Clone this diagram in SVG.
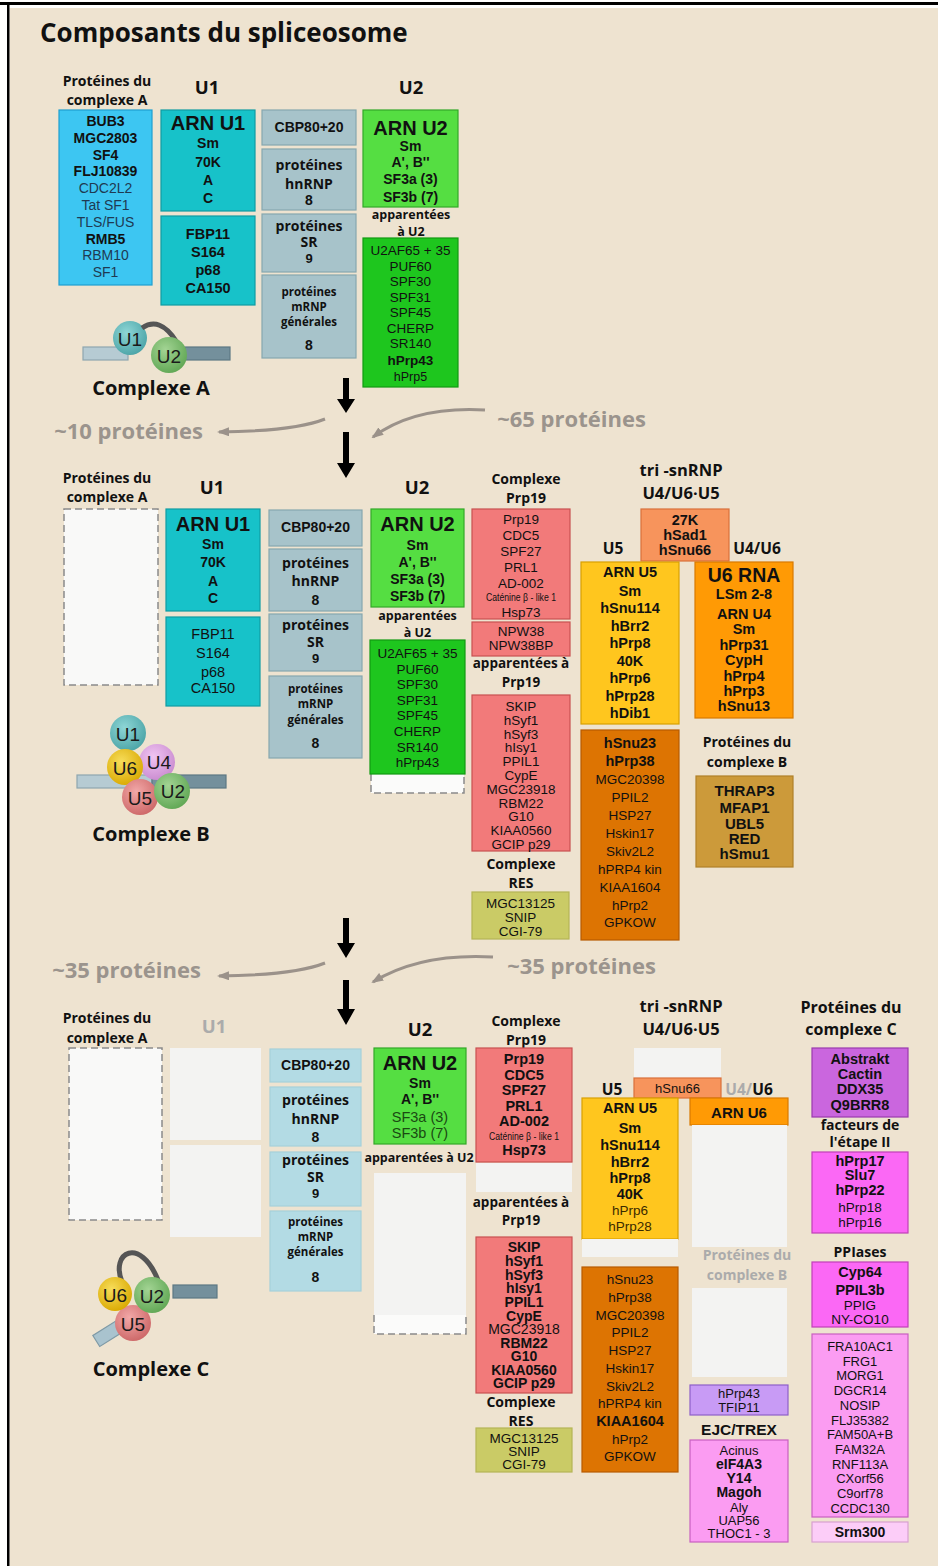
<svg xmlns="http://www.w3.org/2000/svg" width="938" height="1566" viewBox="0 0 938 1566">
<defs>
<style>
text{dominant-baseline:central;text-anchor:middle}
.s{font-family:"Liberation Sans",Arial,Helvetica,sans-serif;font-size:14px;fill:#111}
.sm{font-family:"Liberation Sans",Arial,Helvetica,sans-serif;font-size:13px;fill:#111}
.b{font-weight:bold}
.h{font-family:"Open Sans","Liberation Sans",sans-serif;font-weight:bold;fill:#111}
.hs{font-size:14px}
.gry{fill:#ABABAB}
.big{font-size:20px;font-weight:bold}
.ct{font-family:"Liberation Sans",Arial,sans-serif;font-size:19px;fill:#1a1a1a}
.pg{font-family:"Open Sans","Liberation Sans",sans-serif;font-weight:bold;font-size:22px;fill:#9B948D}
.n9{font-family:"Liberation Sans",Arial,sans-serif;font-weight:bold;font-size:13px;fill:#111}
rect{stroke-width:1.2}
.r-sky{fill:#3DC6F2;stroke:#1E9FD0}
.r-teal{fill:#17C2C9;stroke:#0F9CA3}
.r-gb{fill:#A7C3CA;stroke:#86A7AF}
.r-lb{fill:#B3DBE4;stroke:#A6D0DA}
.r-lg{fill:#55DE42;stroke:#33A828}
.r-dg{fill:#1EC61E;stroke:#129A12}
.r-pk{fill:#F27A7A;stroke:#C85050}
.r-ol{fill:#CACB66;stroke:#B5B555}
.r-sal{fill:#F7945C;stroke:#D9703A}
.r-yl{fill:#FFC61E;stroke:#D9A000}
.r-or{fill:#FF9A05;stroke:#D97A00}
.r-do{fill:#DD7402;stroke:#B85A00}
.r-br{fill:#CC9A3A;stroke:#B08028}
.r-lav{fill:#C89BF5;stroke:#8E5FC8}
.r-pu{fill:#CA66DE;stroke:#9A3AAE}
.r-mg{fill:#FB68F5;stroke:#C040B8}
.r-lp{fill:#FB9CF2;stroke:#C860C0}
.r-vlp{fill:#FCCDF8;stroke:#D8A0D0}
.r-ph{fill:#F3F3F2;stroke:none}
.r-dash{fill:#F9F9F8;stroke:#8A8A8A;stroke-dasharray:7 4;stroke-width:1.5}
.dash{fill:none;stroke:#8A8A8A;stroke-dasharray:7 4;stroke-width:1.5}
.gcurve{fill:none;stroke:#9B928A;stroke-width:3}
.loop{fill:none;stroke:#555;stroke-width:5}
</style>
<marker id="ga" markerWidth="12" markerHeight="9" refX="10" refY="4.5" orient="auto" markerUnits="userSpaceOnUse"><path d="M0,0 L12,4.5 L0,9 z" fill="#9B928A"/></marker>
<radialGradient id="gTeal" cx="0.4" cy="0.35" r="0.7"><stop offset="0" stop-color="#8ED6D6"/><stop offset="1" stop-color="#4AA3A6"/></radialGradient>
<radialGradient id="gGreen" cx="0.4" cy="0.35" r="0.7"><stop offset="0" stop-color="#A3D494"/><stop offset="1" stop-color="#5FA653"/></radialGradient>
<radialGradient id="gYel" cx="0.4" cy="0.35" r="0.7"><stop offset="0" stop-color="#F7DD5A"/><stop offset="1" stop-color="#D9A800"/></radialGradient>
<radialGradient id="gLil" cx="0.4" cy="0.35" r="0.7"><stop offset="0" stop-color="#F0C4F2"/><stop offset="1" stop-color="#C98ACF"/></radialGradient>
<radialGradient id="gSal" cx="0.4" cy="0.35" r="0.7"><stop offset="0" stop-color="#F2A8A8"/><stop offset="1" stop-color="#CC6666"/></radialGradient>
</defs>

<rect x="0" y="0" width="938" height="1566" fill="#FFFFFF"/>
<rect x="9.5" y="8" width="928.5" height="1558" fill="#EEE3D0"/>
<rect x="0" y="2" width="938" height="3" fill="#000"/>
<rect x="7" y="5" width="2.5" height="1561" fill="#000"/>

<text x="40" y="32" class="h" style="font-size:26px;text-anchor:start">Composants du spliceosome</text>

<!-- ================= SECTION A ================= -->
<g id="A-headers">
<text class="h hs"><tspan x="107" y="80">Protéines du</tspan><tspan x="107" y="99">complexe A</tspan></text>
<text x="207" y="86" class="h" style="font-size:18.5px">U1</text>
<text x="411" y="86" class="h" style="font-size:18.5px">U2</text>
</g>
<g id="A-protA">
<rect x="59" y="110" width="93" height="175" class="r-sky"/>
<text class="s"><tspan x="105.5" y="121" class="b">BUB3</tspan><tspan x="105.5" y="137.8" class="b">MGC2803</tspan><tspan x="105.5" y="154.6" class="b">SF4</tspan><tspan x="105.5" y="171.4" class="b">FLJ10839</tspan><tspan x="105.5" y="188.2" fill="#1F3A52">CDC2L2</tspan><tspan x="105.5" y="205" fill="#1F3A52">Tat SF1</tspan><tspan x="105.5" y="221.8" fill="#1F3A52">TLS/FUS</tspan><tspan x="105.5" y="238.6" class="b">RMB5</tspan><tspan x="105.5" y="255.4" fill="#1F3A52">RBM10</tspan><tspan x="105.5" y="272.2" fill="#1F3A52">SF1</tspan></text>
</g>
<g id="A-U1">
<rect x="161" y="110" width="94" height="101" class="r-teal"/>
<text class="s b"><tspan x="208" y="123" class="big">ARN U1</tspan><tspan x="208" y="143">Sm</tspan><tspan x="208" y="162">70K</tspan><tspan x="208" y="180">A</tspan><tspan x="208" y="198">C</tspan></text>
</g>
<g id="A-U1b">
<rect x="161" y="216" width="94" height="89" class="r-teal"/>
<text class="s b" style="font-size:14.5px"><tspan x="208" y="234">FBP11</tspan><tspan x="208" y="252">S164</tspan><tspan x="208" y="270">p68</tspan><tspan x="208" y="288">CA150</tspan></text>
</g>
<g id="A-CBP">
<rect x="262" y="110" width="94" height="35" class="r-gb"/>
<text x="309" y="127" class="s b">CBP80+20</text>
</g>
<g id="A-hnRNP">
<rect x="262" y="149" width="94" height="61" class="r-gb"/>
<text class="h hs"><tspan x="309" y="164">protéines</tspan><tspan x="309" y="183">hnRNP</tspan></text>
<text x="309" y="200" class="s b">8</text>
</g>
<g id="A-SR">
<rect x="262" y="214" width="94" height="58" class="r-gb"/>
<text class="h hs"><tspan x="309" y="225">protéines</tspan><tspan x="309" y="241">SR</tspan></text>
<text x="309" y="258" class="n9">9</text>
</g>
<g id="A-mRNP">
<rect x="262" y="275" width="94" height="83" class="r-gb"/>
<text class="h" style="font-size:11.5px"><tspan x="309" y="291">protéines</tspan><tspan x="309" y="306">mRNP</tspan><tspan x="309" y="321">générales</tspan></text>
<text x="309" y="345" class="s b">8</text>
</g>
<g id="A-U2">
<rect x="363" y="110" width="95" height="97" class="r-lg"/>
<text class="s b"><tspan x="410.5" y="128" class="big">ARN U2</tspan><tspan x="410.5" y="146">Sm</tspan><tspan x="410.5" y="162">A', B''</tspan><tspan x="410.5" y="179">SF3a (3)</tspan><tspan x="410.5" y="197">SF3b (7)</tspan></text>
</g>
<text class="h" style="font-size:12.5px"><tspan x="411" y="214">apparentées</tspan><tspan x="411" y="231">à U2</tspan></text>
<g id="A-U2rel">
<rect x="363" y="238" width="95" height="149" class="r-dg"/>
<text class="s" style="font-size:13.5px" fill="#123812"><tspan x="410.5" y="250">U2AF65 + 35</tspan><tspan x="410.5" y="265.5">PUF60</tspan><tspan x="410.5" y="281">SPF30</tspan><tspan x="410.5" y="296.5">SPF31</tspan><tspan x="410.5" y="312">SPF45</tspan><tspan x="410.5" y="327.5">CHERP</tspan><tspan x="410.5" y="343">SR140</tspan><tspan x="410.5" y="360" class="b" fill="#111">hPrp43</tspan><tspan x="410.5" y="377" style="font-size:12.5px">hPrp5</tspan></text>
</g>
<g id="A-figure">
<rect x="83" y="347" width="45" height="13" fill="#B6CBD3" stroke="#8EA6B0"/>
<rect x="185" y="347" width="45" height="13" fill="#74909C" stroke="#5D7884"/>
<circle cx="130" cy="338" r="17" fill="url(#gTeal)"/>
<path d="M142 328 Q160 316 176 341" class="loop"/>
<circle cx="169" cy="355" r="18" fill="url(#gGreen)"/>
<text x="130" y="339" class="ct">U1</text>
<text x="169" y="356" class="ct">U2</text>
<text x="151" y="387" class="h" style="font-size:20px">Complexe A</text>
</g>

<!-- ================= CONNECTORS ================= -->
<g id="connectors">
<path d="M343 378 h6 v21 h6 l-9 14 l-9 -14 h6 z" fill="#000"/>
<path d="M343 432 h6 v31 h6 l-9 15 l-9 -15 h6 z" fill="#000"/>
<path d="M343 918 h6 v25 h6 l-9 15 l-9 -15 h6 z" fill="#000"/>
<path d="M343 980 h6 v29 h6 l-9 16 l-9 -16 h6 z" fill="#000"/>
<path d="M325 419 Q295 431 219 432" class="gcurve" marker-end="url(#ga)"/>
<path d="M485 410 Q415 406 373 437" class="gcurve" marker-end="url(#ga)"/>
<path d="M325 963 Q295 975 219 976" class="gcurve" marker-end="url(#ga)"/>
<path d="M493 957 Q420 953 373 982" class="gcurve" marker-end="url(#ga)"/>
</g>
<text x="128.5" y="430" class="pg">~10 protéines</text>
<text x="571.5" y="418" class="pg">~65 protéines</text>
<text x="126.5" y="969" class="pg">~35 protéines</text>
<text x="581.5" y="965" class="pg">~35 protéines</text>

<!-- ================= SECTION B ================= -->
<g id="B-headers">
<text class="h hs"><tspan x="107" y="477">Protéines du</tspan><tspan x="107" y="496">complexe A</tspan></text>
<text x="212" y="486" class="h" style="font-size:18.5px">U1</text>
<text x="417" y="486" class="h" style="font-size:18.5px">U2</text>
</g>
<g id="B-protA"><rect x="64" y="509" width="94" height="176" class="r-dash"/></g>
<g id="B-U1">
<rect x="166" y="509" width="94" height="102" class="r-teal"/>
<text class="s b"><tspan x="213" y="524" class="big">ARN U1</tspan><tspan x="213" y="544">Sm</tspan><tspan x="213" y="562">70K</tspan><tspan x="213" y="581">A</tspan><tspan x="213" y="598">C</tspan></text>
</g>
<g id="B-U1b">
<rect x="166" y="617" width="94" height="89" class="r-teal"/>
<text class="s" fill="#123C44" style="font-size:14.5px"><tspan x="213" y="634">FBP11</tspan><tspan x="213" y="653">S164</tspan><tspan x="213" y="672">p68</tspan><tspan x="213" y="688">CA150</tspan></text>
</g>
<g id="B-CBP">
<rect x="269" y="510" width="93" height="36" class="r-gb"/>
<text x="315.5" y="527" class="s b">CBP80+20</text>
</g>
<g id="B-hnRNP">
<rect x="269" y="549" width="93" height="62" class="r-gb"/>
<text class="h hs"><tspan x="315.5" y="562">protéines</tspan><tspan x="315.5" y="580">hnRNP</tspan></text>
<text x="315.5" y="600" class="s b">8</text>
</g>
<g id="B-SR">
<rect x="269" y="614" width="93" height="57" class="r-gb"/>
<text class="h hs"><tspan x="315.5" y="624">protéines</tspan><tspan x="315.5" y="641">SR</tspan></text>
<text x="315.5" y="658" class="n9">9</text>
</g>
<g id="B-mRNP">
<rect x="269" y="676" width="93" height="82" class="r-gb"/>
<text class="h" style="font-size:11.5px"><tspan x="315.5" y="688">protéines</tspan><tspan x="315.5" y="703">mRNP</tspan><tspan x="315.5" y="719">générales</tspan></text>
<text x="315.5" y="743" class="s b">8</text>
</g>
<g id="B-U2">
<rect x="371" y="509" width="93" height="98" class="r-lg"/>
<text class="s b"><tspan x="417.5" y="524" class="big">ARN U2</tspan><tspan x="417.5" y="545">Sm</tspan><tspan x="417.5" y="562">A', B''</tspan><tspan x="417.5" y="579">SF3a (3)</tspan><tspan x="417.5" y="596">SF3b (7)</tspan></text>
</g>
<text class="h" style="font-size:12.5px"><tspan x="417.5" y="615">apparentées</tspan><tspan x="417.5" y="632">à U2</tspan></text>
<g id="B-U2rel">
<rect x="371" y="774" width="93" height="19" fill="#FBFBFA" stroke="none"/>
<path d="M371 774 V793 H464 V774" class="dash"/>
<rect x="370" y="640" width="95" height="134" class="r-dg"/>
<text class="s" style="font-size:13.5px" fill="#123812"><tspan x="417.5" y="653">U2AF65 + 35</tspan><tspan x="417.5" y="669">PUF60</tspan><tspan x="417.5" y="684">SPF30</tspan><tspan x="417.5" y="700">SPF31</tspan><tspan x="417.5" y="715">SPF45</tspan><tspan x="417.5" y="731">CHERP</tspan><tspan x="417.5" y="747">SR140</tspan><tspan x="417.5" y="762">hPrp43</tspan></text>
</g>
<g id="B-figure">
<rect x="77" y="775" width="75" height="13" fill="#B6CBD3" stroke="#8EA6B0"/>
<rect x="152" y="775" width="74" height="13" fill="#74909C" stroke="#5D7884"/>
<circle cx="128" cy="733" r="18" fill="url(#gTeal)"/>
<circle cx="157" cy="762" r="18" fill="url(#gLil)"/>
<circle cx="125" cy="767" r="18" fill="url(#gYel)"/>
<circle cx="140" cy="797" r="18" fill="url(#gSal)"/>
<circle cx="172" cy="791" r="18" fill="url(#gGreen)"/>
<text x="128" y="734" class="ct">U1</text>
<text x="125" y="768" class="ct">U6</text>
<text x="159" y="762" class="ct">U4</text>
<text x="140" y="798" class="ct">U5</text>
<text x="173" y="791" class="ct">U2</text>
<text x="151" y="833" class="h" style="font-size:20px">Complexe B</text>
</g>
<g id="B-Prp19">
<text class="h hs"><tspan x="526" y="478">Complexe</tspan><tspan x="526" y="497">Prp19</tspan></text>
<rect x="472" y="509" width="98" height="110" class="r-pk"/>
<text class="s" style="font-size:13.5px" fill="#3A0E0E"><tspan x="521" y="519">Prp19</tspan><tspan x="521" y="535">CDC5</tspan><tspan x="521" y="551">SPF27</tspan><tspan x="521" y="567">PRL1</tspan><tspan x="521" y="583">AD-002</tspan><tspan x="521" y="612">Hsp73</tspan></text>
<text x="521" y="597" class="s" style="font-size:11px" fill="#3A0E0E" textLength="70" lengthAdjust="spacingAndGlyphs">Caténine β - like 1</text>
</g>
<g id="B-NPW">
<rect x="472" y="622" width="98" height="34" class="r-pk"/>
<text class="s" style="font-size:13.5px" fill="#3A0E0E"><tspan x="521" y="631">NPW38</tspan><tspan x="521" y="645">NPW38BP</tspan></text>
</g>
<g id="B-Prp19rel">
<text class="h" style="font-size:13.5px"><tspan x="521" y="663">apparentées à</tspan><tspan x="521" y="682">Prp19</tspan></text>
<rect x="472" y="695" width="98" height="156" class="r-pk"/>
<text class="s" style="font-size:13.5px" fill="#3A0E0E"><tspan x="521" y="706">SKIP</tspan><tspan x="521" y="719.8">hSyf1</tspan><tspan x="521" y="733.6">hSyf3</tspan><tspan x="521" y="747.4">hIsy1</tspan><tspan x="521" y="761.2">PPIL1</tspan><tspan x="521" y="775">CypE</tspan><tspan x="521" y="788.8">MGC23918</tspan><tspan x="521" y="802.6">RBM22</tspan><tspan x="521" y="816.4">G10</tspan><tspan x="521" y="830.2">KIAA0560</tspan><tspan x="521" y="844">GCIP p29</tspan></text>
</g>
<g id="B-RES">
<text class="h hs"><tspan x="521" y="863">Complexe</tspan><tspan x="521" y="882">RES</tspan></text>
<rect x="472" y="892" width="97" height="47" class="r-ol"/>
<text class="s" style="font-size:13.5px" fill="#2E2E10"><tspan x="520.5" y="903">MGC13125</tspan><tspan x="520.5" y="917">SNIP</tspan><tspan x="520.5" y="931">CGI-79</tspan></text>
</g>
<g id="B-tri">
<text class="h" style="font-size:16.5px"><tspan x="681" y="469">tri -snRNP</tspan><tspan x="681" y="492">U4/U6·U5</tspan></text>
<rect x="641" y="509" width="88" height="52" class="r-sal"/>
<text class="s b" style="font-size:14.5px"><tspan x="685" y="520">27K</tspan><tspan x="685" y="535">hSad1</tspan><tspan x="685" y="550">hSnu66</tspan></text>
<text x="613" y="548" class="h" style="font-size:15.5px">U5</text>
<text x="757" y="548" class="h" style="font-size:15.5px">U4/U6</text>
</g>
<g id="B-U5">
<rect x="581" y="562" width="98" height="162" class="r-yl"/>
<text class="s b" style="font-size:14.5px"><tspan x="630" y="572">ARN U5</tspan><tspan x="630" y="591">Sm</tspan><tspan x="630" y="608">hSnu114</tspan><tspan x="630" y="626">hBrr2</tspan><tspan x="630" y="643">hPrp8</tspan><tspan x="630" y="661">40K</tspan><tspan x="630" y="678">hPrp6</tspan><tspan x="630" y="696">hPrp28</tspan><tspan x="630" y="713">hDib1</tspan></text>
</g>
<g id="B-U4U6">
<rect x="695" y="562" width="98" height="156" class="r-or"/>
<text class="s b" style="font-size:14.5px"><tspan x="744" y="575" style="font-size:19.5px">U6 RNA</tspan><tspan x="744" y="594">LSm 2-8</tspan><tspan x="744" y="614">ARN U4</tspan><tspan x="744" y="629">Sm</tspan><tspan x="744" y="645">hPrp31</tspan><tspan x="744" y="660">CypH</tspan><tspan x="744" y="676">hPrp4</tspan><tspan x="744" y="691">hPrp3</tspan><tspan x="744" y="706">hSnu13</tspan></text>
</g>
<g id="B-U5rel">
<rect x="581" y="730" width="98" height="210" class="r-do"/>
<text class="s" style="font-size:13.5px" fill="#3A1C00"><tspan x="630" y="743" class="b" style="font-size:14.5px">hSnu23</tspan><tspan x="630" y="761" class="b" style="font-size:14.5px">hPrp38</tspan><tspan x="630" y="779">MGC20398</tspan><tspan x="630" y="797">PPIL2</tspan><tspan x="630" y="814.5">HSP27</tspan><tspan x="630" y="833">Hskin17</tspan><tspan x="630" y="851">Skiv2L2</tspan><tspan x="630" y="869">hPRP4 kin</tspan><tspan x="630" y="887">KIAA1604</tspan><tspan x="630" y="904.5">hPrp2</tspan><tspan x="630" y="922">GPKOW</tspan></text>
</g>
<g id="B-protB">
<text class="h hs"><tspan x="747" y="741">Protéines du</tspan><tspan x="747" y="761">complexe B</tspan></text>
<rect x="696" y="776" width="97" height="91" class="r-br"/>
<text class="s b" style="font-size:15px"><tspan x="744.5" y="790">THRAP3</tspan><tspan x="744.5" y="807">MFAP1</tspan><tspan x="744.5" y="823">UBL5</tspan><tspan x="744.5" y="838">RED</tspan><tspan x="744.5" y="853">hSmu1</tspan></text>
</g>

<!-- ================= SECTION C ================= -->
<g id="C-headers">
<text class="h hs"><tspan x="107" y="1017">Protéines du</tspan><tspan x="107" y="1037">complexe A</tspan></text>
<text x="214" y="1025" class="h gry" style="font-size:18.5px">U1</text>
<text x="420" y="1028" class="h" style="font-size:18.5px">U2</text>
</g>
<g id="C-protA"><rect x="69" y="1048" width="93" height="172" class="r-dash"/></g>
<g id="C-U1">
<rect x="170" y="1048" width="91" height="92" class="r-ph"/>
<rect x="170" y="1145" width="91" height="92" class="r-ph"/>
</g>
<g id="C-CBP">
<rect x="270" y="1049" width="91" height="33" class="r-lb"/>
<text x="315.5" y="1065" class="s b">CBP80+20</text>
</g>
<g id="C-hnRNP">
<rect x="270" y="1087" width="91" height="59" class="r-lb"/>
<text class="h hs"><tspan x="315.5" y="1099">protéines</tspan><tspan x="315.5" y="1118">hnRNP</tspan></text>
<text x="315.5" y="1137" class="s b">8</text>
</g>
<g id="C-SR">
<rect x="270" y="1152" width="91" height="54" class="r-lb"/>
<text class="h hs"><tspan x="315.5" y="1159">protéines</tspan><tspan x="315.5" y="1176">SR</tspan></text>
<text x="315.5" y="1193" class="n9">9</text>
</g>
<g id="C-mRNP">
<rect x="270" y="1211" width="91" height="80" class="r-lb"/>
<text class="h" style="font-size:11.5px"><tspan x="315.5" y="1221">protéines</tspan><tspan x="315.5" y="1236">mRNP</tspan><tspan x="315.5" y="1251">générales</tspan></text>
<text x="315.5" y="1277" class="s b">8</text>
</g>
<g id="C-U2">
<rect x="374" y="1048" width="92" height="96" class="r-lg"/>
<text class="s"><tspan x="420" y="1063" class="big">ARN U2</tspan><tspan x="420" y="1083" class="b">Sm</tspan><tspan x="420" y="1099" class="b">A', B''</tspan><tspan x="420" y="1117" fill="#1A4A12" style="font-size:14.5px">SF3a (3)</tspan><tspan x="420" y="1133" fill="#1A4A12" style="font-size:14.5px">SF3b (7)</tspan></text>
</g>
<text x="419" y="1157" class="h" style="font-size:12.5px">apparentées à U2</text>
<g id="C-U2rel">
<rect x="374" y="1173" width="92" height="142" class="r-ph"/>
<rect x="374" y="1315" width="92" height="19" fill="#FBFBFA" stroke="none"/>
<path d="M374 1315 V1334 H466 V1315" class="dash"/>
</g>
<g id="C-figure">
<path d="M122 1282 C110 1252 140 1236 158 1280" class="loop"/>
<rect x="173" y="1285" width="44" height="13" fill="#74909C" stroke="#5D7884"/>
<rect x="-15" y="-6.5" width="30" height="13" transform="translate(109 1333) rotate(-32)" fill="#A9C3CE" stroke="#7F9AA6"/>
<circle cx="133" cy="1323" r="18" fill="url(#gSal)"/>
<circle cx="115" cy="1294" r="17" fill="url(#gYel)"/>
<circle cx="152" cy="1295" r="18" fill="url(#gGreen)"/>
<text x="115" y="1295" class="ct">U6</text>
<text x="152" y="1296" class="ct">U2</text>
<text x="133" y="1324" class="ct">U5</text>
<text x="151" y="1368" class="h" style="font-size:20px">Complexe C</text>
</g>
<g id="C-Prp19">
<text class="h hs"><tspan x="526" y="1020">Complexe</tspan><tspan x="526" y="1039">Prp19</tspan></text>
<rect x="476" y="1048" width="96" height="114" class="r-pk"/>
<text class="s b" style="font-size:14.5px" fill="#2A0808"><tspan x="524" y="1059">Prp19</tspan><tspan x="524" y="1074.5">CDC5</tspan><tspan x="524" y="1090">SPF27</tspan><tspan x="524" y="1105.5">PRL1</tspan><tspan x="524" y="1121">AD-002</tspan><tspan x="524" y="1150">Hsp73</tspan></text>
<text x="524" y="1136" class="s" style="font-size:11px" fill="#3A0E0E" textLength="70" lengthAdjust="spacingAndGlyphs">Caténine β - like 1</text>
</g>
<g id="C-NPW"><rect x="476" y="1163" width="96" height="29" class="r-ph"/></g>
<g id="C-Prp19rel">
<text class="h" style="font-size:13.5px"><tspan x="521" y="1202">apparentées à</tspan><tspan x="521" y="1220">Prp19</tspan></text>
<rect x="476" y="1237" width="96" height="156" class="r-pk"/>
<text class="s b" style="font-size:14px" fill="#2A0808"><tspan x="524" y="1247">SKIP</tspan><tspan x="524" y="1261">hSyf1</tspan><tspan x="524" y="1274.5">hSyf3</tspan><tspan x="524" y="1288">hIsy1</tspan><tspan x="524" y="1302">PPIL1</tspan><tspan x="524" y="1315.5">CypE</tspan><tspan x="524" y="1329" style="font-weight:normal">MGC23918</tspan><tspan x="524" y="1342.5">RBM22</tspan><tspan x="524" y="1356">G10</tspan><tspan x="524" y="1369.5">KIAA0560</tspan><tspan x="524" y="1383">GCIP p29</tspan></text>
</g>
<g id="C-RES">
<text class="h hs"><tspan x="521" y="1401">Complexe</tspan><tspan x="521" y="1420">RES</tspan></text>
<rect x="476" y="1428" width="96" height="44" class="r-ol"/>
<text class="s" style="font-size:13.5px" fill="#2E2E10"><tspan x="524" y="1438">MGC13125</tspan><tspan x="524" y="1451">SNIP</tspan><tspan x="524" y="1464">CGI-79</tspan></text>
</g>
<g id="C-tri">
<text class="h" style="font-size:16.5px"><tspan x="681" y="1005">tri -snRNP</tspan><tspan x="681" y="1028">U4/U6·U5</tspan></text>
<rect x="634" y="1048" width="87" height="30" class="r-ph"/>
<rect x="634" y="1078" width="87" height="20" class="r-sal"/>
<text x="677.5" y="1088" class="sm" fill="#3A1A0A">hSnu66</text>
<text x="612" y="1089" class="h" style="font-size:15.5px">U5</text>
<text x="749" y="1089" class="h" style="font-size:15.5px"><tspan class="gry">U4/</tspan><tspan>U6</tspan></text>
</g>
<g id="C-U5">
<rect x="582" y="1098" width="96" height="141" class="r-yl"/>
<text class="s b" style="font-size:14.5px"><tspan x="630" y="1108">ARN U5</tspan><tspan x="630" y="1128">Sm</tspan><tspan x="630" y="1145">hSnu114</tspan><tspan x="630" y="1162">hBrr2</tspan><tspan x="630" y="1178">hPrp8</tspan><tspan x="630" y="1194">40K</tspan><tspan x="630" y="1210" style="font-weight:normal;font-size:13.5px" fill="#3A2A00">hPrp6</tspan><tspan x="630" y="1226" style="font-weight:normal;font-size:13.5px" fill="#3A2A00">hPrp28</tspan></text>
<rect x="582" y="1239" width="96" height="18" class="r-ph"/>
</g>
<g id="C-U4U6">
<rect x="690" y="1098" width="98" height="27" class="r-or"/>
<text x="739" y="1112" class="s b" style="font-size:15px">ARN U6</text>
<rect x="692" y="1125" width="95" height="122" class="r-ph"/>
</g>
<g id="C-protB">
<text class="h hs gry"><tspan x="747" y="1254">Protéines du</tspan><tspan x="747" y="1274">complexe B</tspan></text>
<rect x="692" y="1288" width="95" height="89" class="r-ph"/>
</g>
<g id="C-U5rel">
<rect x="582" y="1267" width="96" height="205" class="r-do"/>
<text class="s" style="font-size:13.5px" fill="#3A1C00"><tspan x="630" y="1279">hSnu23</tspan><tspan x="630" y="1297">hPrp38</tspan><tspan x="630" y="1314.5">MGC20398</tspan><tspan x="630" y="1332">PPIL2</tspan><tspan x="630" y="1350">HSP27</tspan><tspan x="630" y="1368">Hskin17</tspan><tspan x="630" y="1386">Skiv2L2</tspan><tspan x="630" y="1403">hPRP4 kin</tspan><tspan x="630" y="1421" class="b" fill="#111" style="font-size:14.5px">KIAA1604</tspan><tspan x="630" y="1438.5">hPrp2</tspan><tspan x="630" y="1456">GPKOW</tspan></text>
</g>
<g id="C-hPrp43">
<rect x="690" y="1385" width="98" height="30" class="r-lav"/>
<text class="sm" fill="#2A1A40"><tspan x="739" y="1393">hPrp43</tspan><tspan x="739" y="1407">TFIP11</tspan></text>
</g>
<g id="C-EJC">
<text x="739" y="1429" class="s b" style="font-size:15.5px">EJC/TREX</text>
<rect x="690" y="1440" width="98" height="102" class="r-lp"/>
<text class="sm" fill="#2A0A2A"><tspan x="739" y="1450">Acinus</tspan><tspan x="739" y="1464" class="b" fill="#111" style="font-size:14px">eIF4A3</tspan><tspan x="739" y="1478" class="b" fill="#111" style="font-size:14px">Y14</tspan><tspan x="739" y="1492" class="b" fill="#111" style="font-size:14px">Magoh</tspan><tspan x="739" y="1507">Aly</tspan><tspan x="739" y="1520">UAP56</tspan><tspan x="739" y="1533">THOC1 - 3</tspan></text>
</g>
<g id="C-protC">
<text class="h" style="font-size:16px"><tspan x="851" y="1007">Protéines du</tspan><tspan x="851" y="1029">complexe C</tspan></text>
<rect x="812" y="1048" width="96" height="69" class="r-pu"/>
<text class="s b" style="font-size:14.5px"><tspan x="860" y="1059">Abstrakt</tspan><tspan x="860" y="1074">Cactin</tspan><tspan x="860" y="1089">DDX35</tspan><tspan x="860" y="1105">Q9BRR8</tspan></text>
</g>
<g id="C-step2">
<text class="h hs"><tspan x="860" y="1124">facteurs de</tspan><tspan x="860" y="1141">l'étape II</tspan></text>
<rect x="812" y="1152" width="96" height="81" class="r-mg"/>
<text class="s" style="font-size:13.5px" fill="#3A0A3A"><tspan x="860" y="1161" class="b" fill="#111" style="font-size:14.5px">hPrp17</tspan><tspan x="860" y="1175" class="b" fill="#111" style="font-size:14.5px">Slu7</tspan><tspan x="860" y="1190" class="b" fill="#111" style="font-size:14.5px">hPrp22</tspan><tspan x="860" y="1207">hPrp18</tspan><tspan x="860" y="1222">hPrp16</tspan></text>
</g>
<g id="C-PPIases">
<text x="860" y="1251" class="h hs">PPIases</text>
<rect x="812" y="1262" width="96" height="65" class="r-mg"/>
<text class="s" style="font-size:13.5px" fill="#3A0A3A"><tspan x="860" y="1272" class="b" fill="#111" style="font-size:14.5px">Cyp64</tspan><tspan x="860" y="1290" class="b" fill="#111" style="font-size:14.5px">PPIL3b</tspan><tspan x="860" y="1305">PPIG</tspan><tspan x="860" y="1319">NY-CO10</tspan></text>
</g>
<g id="C-others">
<rect x="812" y="1334" width="96" height="183" class="r-lp"/>
<text class="sm" fill="#2A0A2A"><tspan x="860" y="1346">FRA10AC1</tspan><tspan x="860" y="1360.7">FRG1</tspan><tspan x="860" y="1375.4">MORG1</tspan><tspan x="860" y="1390.1">DGCR14</tspan><tspan x="860" y="1404.8">NOSIP</tspan><tspan x="860" y="1419.5">FLJ35382</tspan><tspan x="860" y="1434.2">FAM50A+B</tspan><tspan x="860" y="1448.9">FAM32A</tspan><tspan x="860" y="1463.6">RNF113A</tspan><tspan x="860" y="1478.3">CXorf56</tspan><tspan x="860" y="1493">C9orf78</tspan><tspan x="860" y="1507.7">CCDC130</tspan></text>
</g>
<g id="C-Srm300">
<rect x="812" y="1522" width="96" height="20" class="r-vlp"/>
<text x="860" y="1532" class="s b">Srm300</text>
</g>
</svg>
